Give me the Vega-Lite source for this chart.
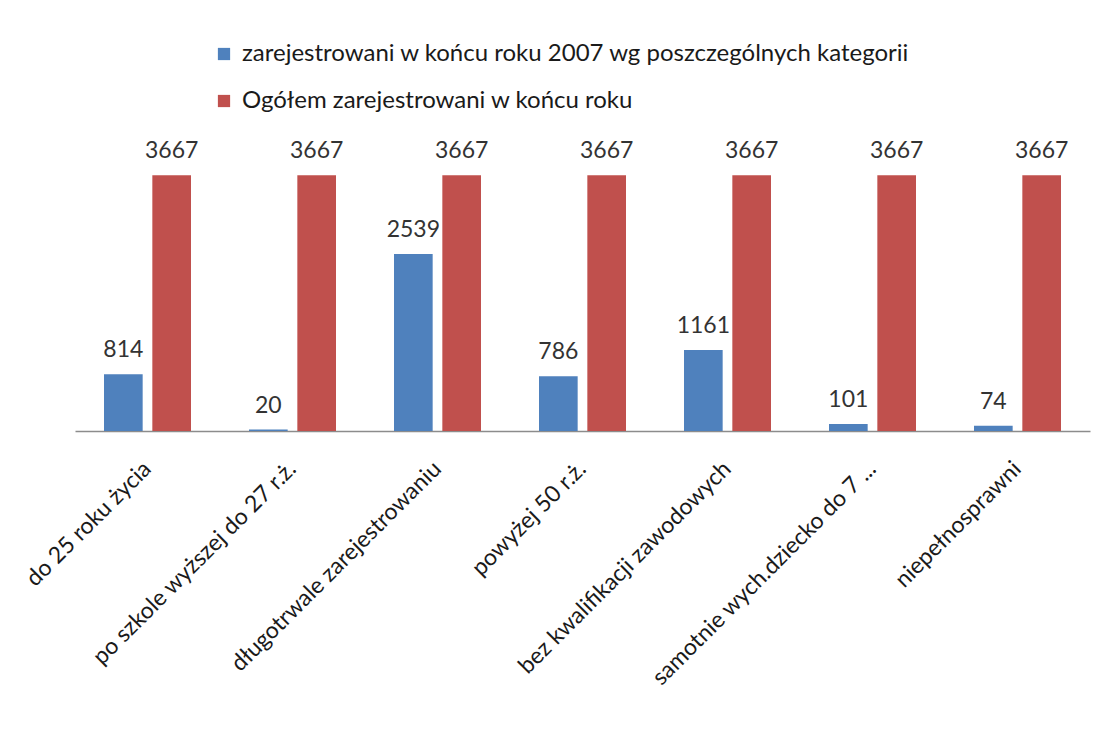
{
  "$schema": "https://vega.github.io/schema/vega-lite/v6.json",
  "autosize": "none",
  "width": 1015,
  "height": 279,
  "padding": {"left": 75, "top": 152, "right": 20, "bottom": 306},
  "background": "white",
  "config": {"view": {"stroke": null}, "font": "Lato"},
  "data": {"values": [
    {"kategoria": "do 25 roku życia", "seria": "zarejestrowani w końcu roku 2007 wg poszczególnych kategorii", "wartosc": 814},
    {"kategoria": "do 25 roku życia", "seria": "Ogółem zarejestrowani  w końcu roku", "wartosc": 3667},
    {"kategoria": "po szkole wyższej do 27 r.ż.", "seria": "zarejestrowani w końcu roku 2007 wg poszczególnych kategorii", "wartosc": 20},
    {"kategoria": "po szkole wyższej do 27 r.ż.", "seria": "Ogółem zarejestrowani  w końcu roku", "wartosc": 3667},
    {"kategoria": "długotrwale zarejestrowaniu", "seria": "zarejestrowani w końcu roku 2007 wg poszczególnych kategorii", "wartosc": 2539},
    {"kategoria": "długotrwale zarejestrowaniu", "seria": "Ogółem zarejestrowani  w końcu roku", "wartosc": 3667},
    {"kategoria": "powyżej 50 r.ż.", "seria": "zarejestrowani w końcu roku 2007 wg poszczególnych kategorii", "wartosc": 786},
    {"kategoria": "powyżej 50 r.ż.", "seria": "Ogółem zarejestrowani  w końcu roku", "wartosc": 3667},
    {"kategoria": "bez kwalifikacji zawodowych", "seria": "zarejestrowani w końcu roku 2007 wg poszczególnych kategorii", "wartosc": 1161},
    {"kategoria": "bez kwalifikacji zawodowych", "seria": "Ogółem zarejestrowani  w końcu roku", "wartosc": 3667},
    {"kategoria": "samotnie wych.dziecko do 7 ...", "seria": "zarejestrowani w końcu roku 2007 wg poszczególnych kategorii", "wartosc": 101},
    {"kategoria": "samotnie wych.dziecko do 7 ...", "seria": "Ogółem zarejestrowani  w końcu roku", "wartosc": 3667},
    {"kategoria": "niepełnosprawni", "seria": "zarejestrowani w końcu roku 2007 wg poszczególnych kategorii", "wartosc": 74},
    {"kategoria": "niepełnosprawni", "seria": "Ogółem zarejestrowani  w końcu roku", "wartosc": 3667}
  ]},
  "encoding": {
    "x": {
      "field": "kategoria", "type": "nominal", "sort": null,
      "scale": {"paddingInner": 0.4, "paddingOuter": 0.2},
      "axis": {
        "title": null, "labelAngle": -45, "labelAlign": "right", "labelBaseline": "middle",
        "labelFontSize": 23, "labelColor": "#1a1a1a", "labelPadding": 34,
        "ticks": false, "domainColor": "#8c8c8c", "domainWidth": 1.5, "labelLimit": 400
      }
    },
    "xOffset": {
      "field": "seria", "type": "nominal",
      "sort": ["zarejestrowani w końcu roku 2007 wg poszczególnych kategorii", "Ogółem zarejestrowani  w końcu roku"],
      "scale": {"paddingInner": 0.2}
    },
    "y": {
      "field": "wartosc", "type": "quantitative",
      "scale": {"domain": [0, 4000]},
      "axis": null
    }
  },
  "layer": [
    {
      "mark": {"type": "bar"},
      "encoding": {
        "color": {
          "field": "seria", "type": "nominal",
          "scale": {
            "domain": ["zarejestrowani w końcu roku 2007 wg poszczególnych kategorii", "Ogółem zarejestrowani  w końcu roku"],
            "range": ["#4F81BD", "#C0504D"]
          },
          "legend": {
            "title": null, "orient": "none", "legendX": 137, "legendY": -110,
            "direction": "vertical", "symbolType": "square", "symbolSize": 150,
            "symbolStrokeWidth": 0, "labelFontSize": 24, "labelColor": "#1a1a1a",
            "rowPadding": 23, "labelLimit": 900, "labelOffset": 6
          }
        }
      }
    },
    {
      "mark": {"type": "text", "baseline": "bottom", "dy": -12, "fontSize": 23, "color": "#333333"},
      "encoding": {"text": {"field": "wartosc", "type": "quantitative", "format": "d"}}
    }
  ]
}
